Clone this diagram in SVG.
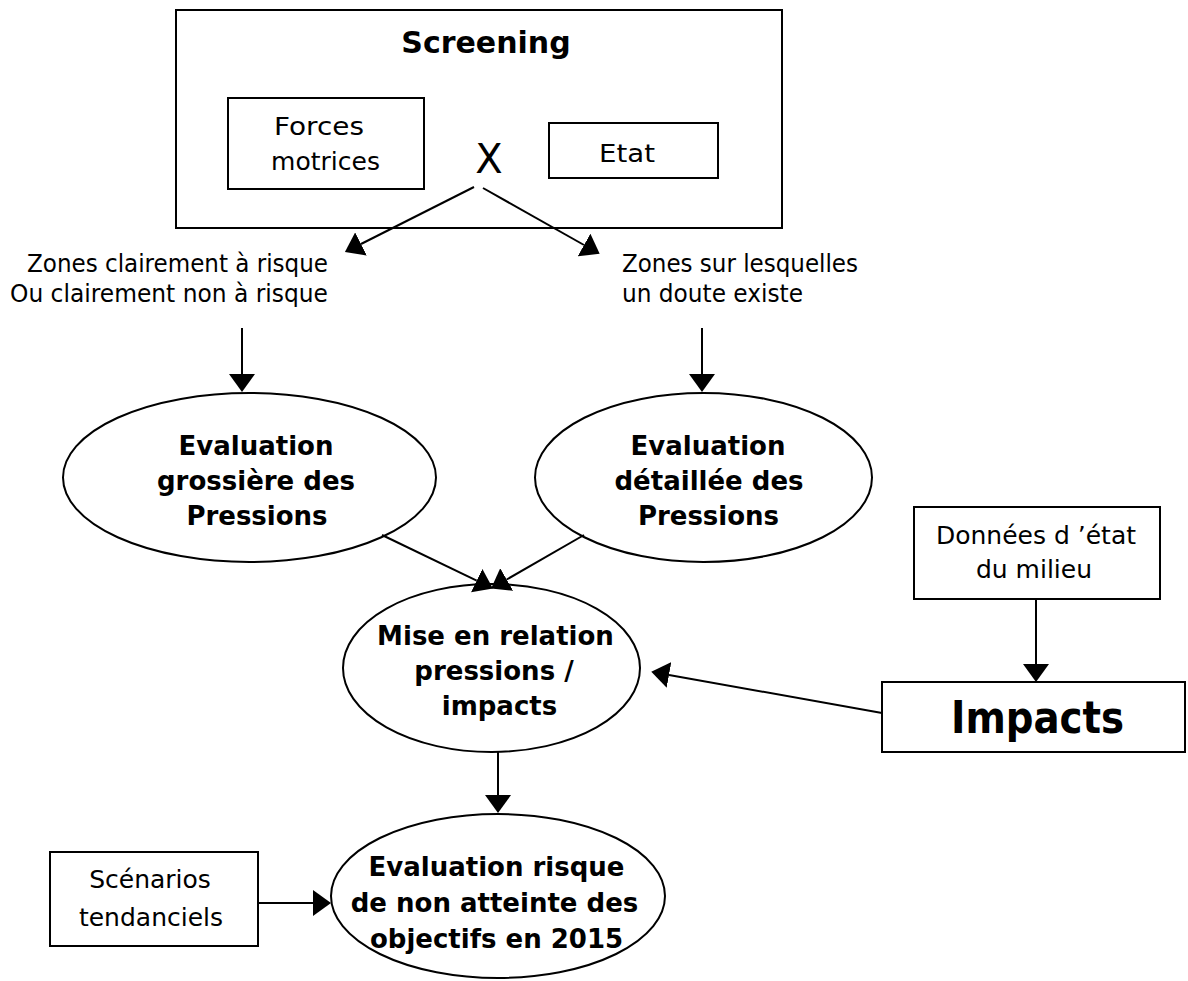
<svg xmlns="http://www.w3.org/2000/svg" width="1188" height="981" viewBox="0 0 1188 981">
  <style>
    .box { fill: #fff; stroke: #000; stroke-width: 2; }
    .ell { fill: #fff; stroke: #000; stroke-width: 2; }
    .t { font-family: "DejaVu Sans", Verdana, sans-serif; font-size: 25px; fill: #000; text-anchor: middle; }
    .b { font-family: "DejaVu Sans", Verdana, sans-serif; font-size: 26px; font-weight: bold; fill: #000; text-anchor: middle; }
    .lbl { font-family: "DejaVu Sans", Verdana, sans-serif; font-size: 24px; fill: #000; }
    .edge { fill: none; stroke: #000; stroke-width: 2; marker-end: url(#arrow); }
  </style>
  <defs>
    <marker id="arrow" markerUnits="userSpaceOnUse" markerWidth="18" markerHeight="26" refX="0" refY="13" orient="auto">
      <path d="M0,0 L18,13 L0,26 z" fill="#000"/>
    </marker>
  </defs>
  <rect width="1188" height="981" fill="#fff"/>

  <!-- Screening frame with its two inputs -->
  <g id="screening">
    <rect class="box" x="176" y="10" width="606" height="218"/>
    <text class="b" x="486" y="53" style="font-size:30px">Screening</text>
  </g>
  <g id="forces-motrices">
    <rect class="box" x="228" y="98" width="196" height="91"/>
    <text class="t" x="319" y="135" textLength="90" lengthAdjust="spacingAndGlyphs">Forces</text>
    <text class="t" x="325.5" y="170">motrices</text>
  </g>
  <g id="cross">
    <text class="t" x="489" y="173" style="font-size:40px">X</text>
  </g>
  <g id="etat">
    <rect class="box" x="549" y="123" width="169" height="55"/>
    <text class="t" x="627" y="162" textLength="56" lengthAdjust="spacingAndGlyphs">Etat</text>
  </g>

  <!-- Zone labels -->
  <g id="zones-risque">
    <text class="lbl" x="328" y="272" text-anchor="end" textLength="301" lengthAdjust="spacingAndGlyphs">Zones clairement à risque</text>
    <text class="lbl" x="328" y="302" text-anchor="end" textLength="318" lengthAdjust="spacingAndGlyphs">Ou clairement non à risque</text>
  </g>
  <g id="zones-doute">
    <text class="lbl" x="622" y="272" textLength="236" lengthAdjust="spacingAndGlyphs">Zones sur lesquelles</text>
    <text class="lbl" x="622" y="302" textLength="181" lengthAdjust="spacingAndGlyphs">un doute existe</text>
  </g>

  <!-- Pressure evaluations -->
  <g id="eval-grossiere">
    <ellipse class="ell" cx="249.5" cy="477.5" rx="186.5" ry="84.5"/>
    <text class="b" x="256" y="455">Evaluation</text>
    <text class="b" x="256" y="490">grossière des</text>
    <text class="b" x="257" y="525">Pressions</text>
  </g>
  <g id="eval-detaillee">
    <ellipse class="ell" cx="703.5" cy="477.5" rx="168.5" ry="84.5"/>
    <text class="b" x="708" y="455">Evaluation</text>
    <text class="b" x="709" y="490">détaillée des</text>
    <text class="b" x="708.5" y="525">Pressions</text>
  </g>

  <g id="donnees-etat">
    <rect class="box" x="914" y="507" width="246" height="92"/>
    <text class="t" x="1036" y="544">Données d ’état</text>
    <text class="t" x="1034" y="578">du milieu</text>
  </g>

  <g id="mise-en-relation">
    <ellipse class="ell" cx="491.5" cy="668" rx="148.5" ry="84"/>
    <text class="b" x="495.5" y="645">Mise en relation</text>
    <text class="b" x="494" y="680">pressions /</text>
    <text class="b" x="499.5" y="715">impacts</text>
  </g>

  <g id="impacts">
    <rect class="box" x="882" y="682" width="303" height="70"/>
    <text class="b" x="1037.5" y="733" style="font-size:44px" textLength="173" lengthAdjust="spacingAndGlyphs">Impacts</text>
  </g>

  <g id="scenarios">
    <rect class="box" x="50" y="852" width="208" height="94"/>
    <text class="t" x="150" y="888">Scénarios</text>
    <text class="t" x="151" y="926">tendanciels</text>
  </g>

  <g id="eval-risque">
    <ellipse class="ell" cx="498" cy="896" rx="167" ry="82"/>
    <text class="b" x="496.5" y="876">Evaluation risque</text>
    <text class="b" x="494.5" y="912">de non atteinte des</text>
    <text class="b" x="496.5" y="948">objectifs en 2015</text>
  </g>

  <!-- Connectors: each line stops at the arrowhead base -->
  <g id="connectors">
    <line class="edge" x1="474" y1="187" x2="361" y2="244"/>
    <line class="edge" x1="483" y1="188" x2="584" y2="245"/>
    <line class="edge" x1="242" y1="328" x2="242" y2="374"/>
    <line class="edge" x1="702" y1="328" x2="702" y2="374"/>
    <line class="edge" x1="382" y1="535" x2="476.7" y2="580.6"/>
    <line class="edge" x1="584" y1="535" x2="506.7" y2="579.5"/>
    <line class="edge" x1="1036" y1="599" x2="1036" y2="664"/>
    <line class="edge" x1="882" y1="713" x2="669" y2="675"/>
    <line class="edge" x1="498" y1="752" x2="498" y2="795"/>
    <line class="edge" x1="258" y1="903" x2="313" y2="903"/>
  </g>
</svg>
